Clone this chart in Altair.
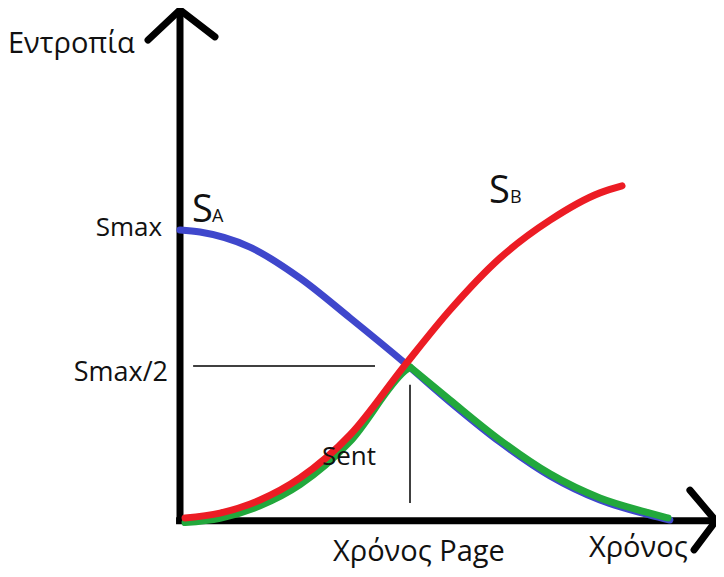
import altair as alt
import pandas as pd

# Curves (t = time in units of Page time, s = entropy in units of Smax)
blue_t = [0.0, 0.087, 0.304, 0.522, 0.739, 0.978, 1.174, 1.391, 1.609, 1.826, 2.043, 2.130]
blue_s = [1.0, 0.993, 0.941, 0.834, 0.697, 0.541, 0.407, 0.269, 0.152, 0.069, 0.017, 0.0]

red_t = [0.022, 0.174, 0.348, 0.522, 0.739, 0.978, 1.174, 1.391, 1.609, 1.826, 1.922]
red_s = [0.007, 0.024, 0.069, 0.145, 0.293, 0.534, 0.724, 0.903, 1.034, 1.128, 1.152]

# Green (S_ent) follows S_B up to Page time, then S_A
green_t = [0.022, 0.174, 0.348, 0.522, 0.739, 0.978, 1.0, 1.174, 1.391, 1.609, 1.826, 2.043, 2.122]
green_s = [-0.009, 0.006, 0.049, 0.122, 0.270, 0.514, 0.528, 0.414, 0.276, 0.159, 0.076, 0.024, 0.007]
green_peak = 6  # index of the Page-time peak

# Axes with arrow heads
yaxis_t = [0.0, 0.0]
yaxis_s = [-0.014, 1.759]
yarrow_t = [-0.139, 0.0, 0.152]
yarrow_s = [1.655, 1.759, 1.666]
xaxis_t = [-0.017, 2.33]
xaxis_s = [-0.003, -0.003]
xarrow_t = [2.217, 2.330, 2.235]
xarrow_s = [0.103, -0.003, -0.103]

# Guide lines
hguide_t = [0.057, 0.848]
hguide_s = [0.531, 0.531]
vguide_t = [1.0, 1.0]
vguide_s = [0.466, 0.059]

# Text labels: (label, t, s, size, align)
labels = [
    ("Εντροπία", -0.748, 1.610, 29, "left"),
    ("Smax", -0.078, 0.979, 26, "right"),
    ("Smax/2", -0.052, 0.479, 27, "right"),
    ("S", 0.052, 1.028, 38, "left"),
    ("A", 0.139, 1.028, 18, "left"),
    ("S", 1.343, 1.093, 38, "left"),
    ("B", 1.435, 1.093, 18, "left"),
    ("Sent", 0.617, 0.190, 26, "left"),
    ("Χρόνος Page", 0.665, -0.141, 29, "left"),
    ("Χρόνος", 1.778, -0.128, 29, "left"),
]

W, H = 708, 561
t0 = -172 / 230
s1 = 512 / 290
xs = alt.Scale(domain=[t0, t0 + W / 230], nice=False, zero=False)
ys = alt.Scale(domain=[s1 - H / 290, s1], nice=False, zero=False)


def line(ts, ss, color, width, name, interp="linear", cap="round"):
    df = pd.DataFrame({"t": ts, "s": ss, "i": range(len(ts))})
    return alt.Chart(df, name=name).mark_line(
        color=color, strokeWidth=width, interpolate=interp, strokeCap=cap, strokeJoin="round"
    ).encode(
        x=alt.X("t:Q", scale=xs, axis=None),
        y=alt.Y("s:Q", scale=ys, axis=None),
        order="i:O",
    )


def text(label, t, s, size, align="left"):
    df = pd.DataFrame({"t": [t], "s": [s], "label": [label]})
    return alt.Chart(df).mark_text(
        align=align, baseline="alphabetic", fontSize=size, font="Open Sans", color="#111111"
    ).encode(
        x=alt.X("t:Q", scale=xs, axis=None),
        y=alt.Y("s:Q", scale=ys, axis=None),
        text="label:N",
    )


layers = [
    line(yaxis_t, yaxis_s, "black", 7, "yaxis", cap="butt"),
    line(yarrow_t, yarrow_s, "black", 7, "yarrow"),
    line(xaxis_t, xaxis_s, "black", 7, "xaxis", cap="butt"),
    line(xarrow_t, xarrow_s, "black", 7, "xarrow"),
    line(hguide_t, hguide_s, "black", 1.5, "hguide", cap="butt"),
    line(vguide_t, vguide_s, "black", 1.5, "vguide", cap="butt"),
    line(blue_t, blue_s, "#3f47cc", 7, "blue", interp="monotone"),
    line(green_t[:green_peak + 1], green_s[:green_peak + 1], "#22a83c", 7, "green_up", interp="monotone"),
    line(green_t[green_peak:], green_s[green_peak:], "#22a83c", 7, "green_down", interp="monotone"),
    line(red_t, red_s, "#ec1c24", 7, "red", interp="monotone"),
] + [text(*lab) for lab in labels]

chart = alt.layer(*layers).properties(
    width=W, height=H, padding=0, autosize=alt.AutoSizeParams(type="none"), background="white"
).configure_view(stroke=None)

chart.save("out.html", embed_options={"renderer": "svg", "actions": False})
